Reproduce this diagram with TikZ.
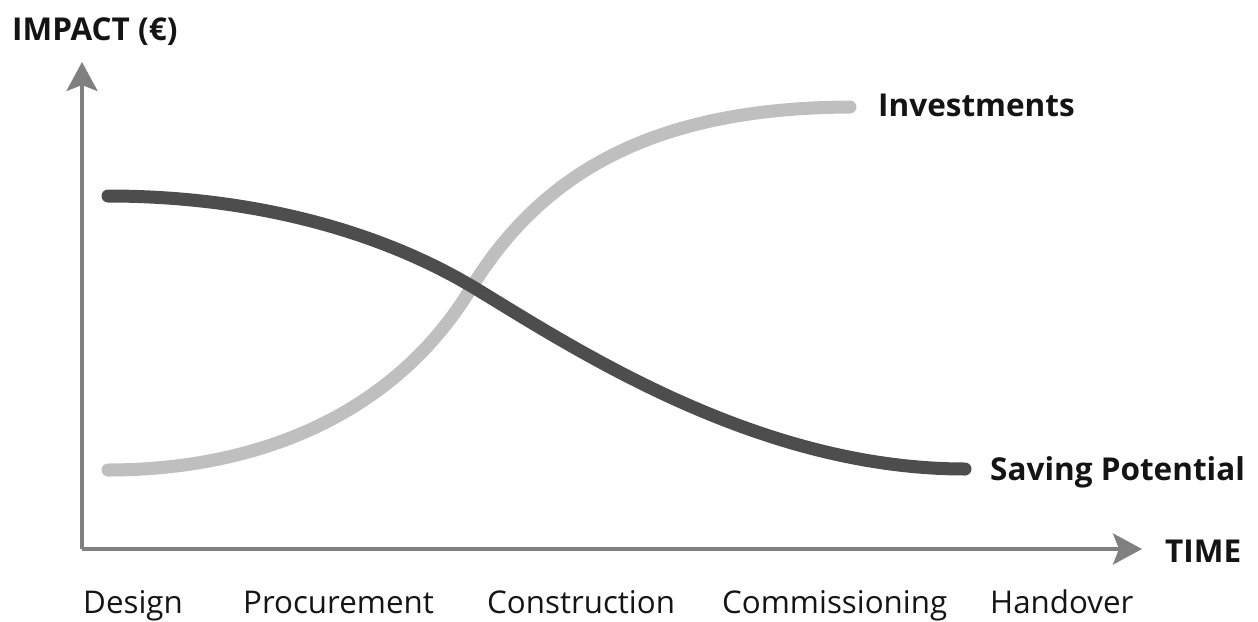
\documentclass[tikz,border=0pt]{standalone}
\usepackage{fontspec}
\setmainfont{Open Sans}
\usetikzlibrary{arrows.meta}
\definecolor{axisgray}{HTML}{808080}
\definecolor{darkcurve}{HTML}{4D4D4D}
\definecolor{lightcurve}{HTML}{BFBFBF}
\definecolor{txt}{HTML}{141414}
\tikzset{
  axis/.style={draw=axisgray, line width=4pt, -{Stealth[length=29pt,width=31pt,inset=6pt]}},
  curve/.style={line width=13pt, line cap=round},
  boldlbl/.style={anchor=base west, inner sep=0pt, font=\fontsize{31.5}{36}\selectfont\bfseries, text=txt},
  phase/.style={anchor=base west, inner sep=0pt, font=\fontsize{31.3}{34}\selectfont, text=txt},
}
\begin{document}
\begin{tikzpicture}[x=1pt,y=-1pt]
\useasboundingbox (0,0) rectangle (1258,621);
\coordinate (origin) at (82,549);
\coordinate (ytip) at (82,62);
\coordinate (xtip) at (1142,549);
\draw[axis] (origin) -- (ytip);
\draw[axis] (origin) -- (xtip);
% curves
\coordinate (i0) at (108,470);
\coordinate (i1) at (470,290);
\coordinate (i2) at (850,107);
\draw[curve, lightcurve] (i0) .. controls (250,470) and (390,420) .. (i1) .. controls (540,175) and (650,108) .. (i2);
\coordinate (s0) at (108,196);
\coordinate (s1) at (478,290);
\coordinate (s2) at (965,469);
\draw[curve, darkcurve] (s0) .. controls (250,196) and (380,230) .. (s1) .. controls (580,352) and (760,469) .. (s2);
% labels
\node[boldlbl] (impact) at (12,40) {IMPACT (€)};
\node[boldlbl] (time) at (1165,562) {TIME};
\node[boldlbl] (inv) at (878,116) {Investments};
\node[boldlbl] (sav) at (990,480) {Saving Potential};
\node[phase] (design) at (83,613) {Design};
\node[phase] (proc) at (243,613) {Procurement};
\node[phase] (constr) at (487,613) {Construction};
\node[phase] (comm) at (722,613) {Commissioning};
\node[phase] (hand) at (990,613) {Handover};
\end{tikzpicture}
\end{document}
